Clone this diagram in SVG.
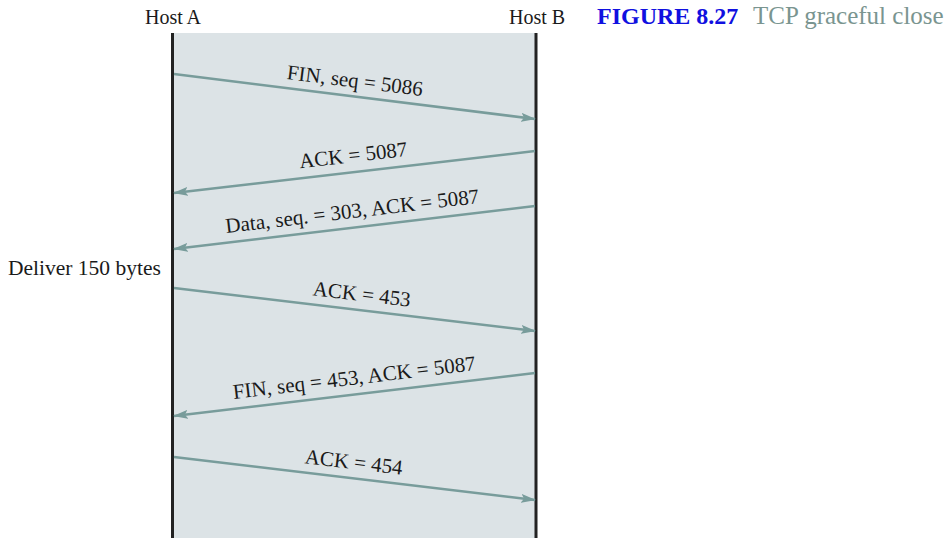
<svg xmlns="http://www.w3.org/2000/svg" width="951" height="538" viewBox="0 0 951 538">
<defs>
<style>
.t{font-family:"Liberation Serif","Times New Roman",serif;font-size:21.5px;fill:#1a1a1a}
.host{font-family:"Liberation Serif","Times New Roman",serif;font-size:20px;fill:#1a1a1a;text-anchor:middle}
.lbl{font-family:"Liberation Serif","Times New Roman",serif;font-size:21px;fill:#1a1a1a;text-anchor:middle}
.msg{stroke:#789c9b;stroke-width:2.5;fill:none;marker-end:url(#ah)}
.life{stroke:#222;stroke-width:3}
</style>
<marker id="ah" viewBox="0 0 15 9" refX="14" refY="4.5" markerWidth="15" markerHeight="9" markerUnits="userSpaceOnUse" orient="auto">
<path d="M0,0 L15,4.5 L0,9 L3,4.5 Z" fill="#789c9b"/>
</marker>
</defs>
<rect width="951" height="538" fill="#ffffff"/>
<g id="background">
<rect x="173" y="33" width="363" height="505" fill="#dce3e6"/>
</g>
<g id="hostA">
<line class="life" x1="172.5" y1="33" x2="172.5" y2="538"/>
<text class="host" x="173" y="24">Host A</text>
</g>
<g id="hostB">
<line class="life" x1="536" y1="33" x2="536" y2="538"/>
<text class="host" x="537" y="24">Host B</text>
</g>
<g id="title">
<text x="597" y="24" font-family="'Liberation Serif','Times New Roman',serif"><tspan fill="#1010e0" font-weight="bold" font-size="24">FIGURE 8.27</tspan><tspan fill="#7a9590" font-size="25" x="753">TCP graceful close</tspan></text>
</g>
<g id="deliver">
<text class="t" x="8" y="275">Deliver 150 bytes</text>
</g>
<g id="connectors">
<line class="msg" x1="174" y1="74" x2="535" y2="119"/>
<line class="msg" x1="535" y1="151" x2="174" y2="193"/>
<line class="msg" x1="535" y1="206" x2="174" y2="249"/>
<line class="msg" x1="174" y1="288" x2="535" y2="331"/>
<line class="msg" x1="535" y1="373" x2="174" y2="416"/>
<line class="msg" x1="174" y1="457" x2="535" y2="500"/>
</g>
<g id="labels">
<text class="lbl" transform="translate(354,87.5) rotate(7.1)">FIN, seq = 5086</text>
<text class="lbl" transform="translate(354,162) rotate(-6.6)">ACK = 5087</text>
<text class="lbl" transform="translate(353,218) rotate(-6.8)">Data, seq. = 303, ACK = 5087</text>
<text class="lbl" transform="translate(361,301) rotate(6.8)">ACK = 453</text>
<text class="lbl" transform="translate(355,384.5) rotate(-6.8)">FIN, seq = 453, ACK = 5087</text>
<text class="lbl" transform="translate(353,469) rotate(6.8)">ACK = 454</text>
</g>
</svg>
